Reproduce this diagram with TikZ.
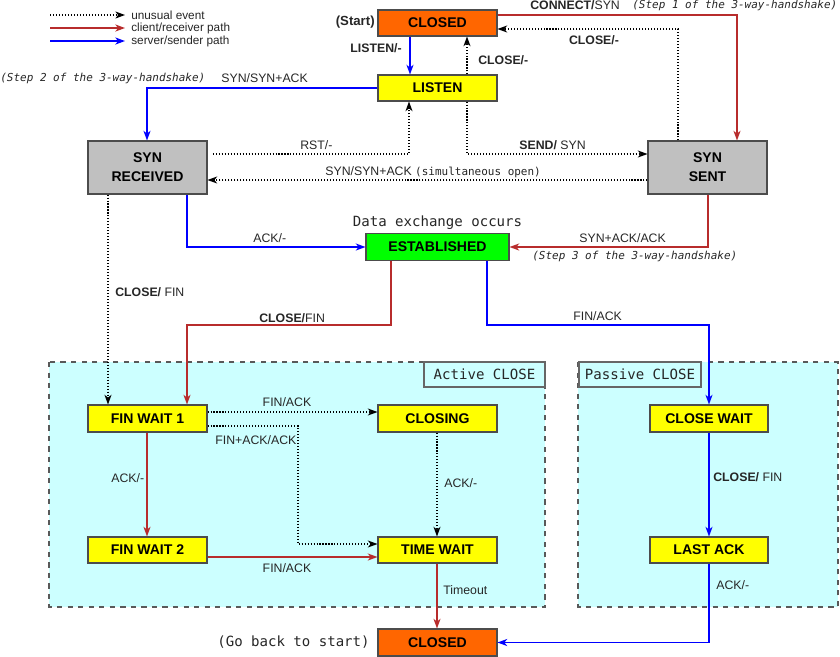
\documentclass[tikz,border=0pt]{standalone}
\usepackage{fontspec}
\setmainfont{Liberation Sans}
\setmonofont{DejaVu Sans Mono}
\usepackage{tikz}
\usetikzlibrary{positioning}
\usetikzlibrary{arrows.meta}
\definecolor{closedcol}{RGB}{255,102,0}
\definecolor{waitcol}{RGB}{255,255,0}
\definecolor{estcol}{RGB}{0,255,0}
\definecolor{syncol}{RGB}{192,192,192}
\definecolor{clustcol}{RGB}{204,255,255}
\definecolor{clientcol}{RGB}{184,44,44}
\colorlet{txtcol}{black!85}
\tikzset{>={Stealth[length=5.5pt,width=4pt,inset=1.6pt]}}
\tikzset{
  state/.style={draw=black!70, line width=0.6pt, minimum width=2.38cm,
    minimum height=0.52cm, inner sep=0pt, align=center,
    font=\fontsize{8}{10}\selectfont\bfseries},
  lbl/.style={font=\fontsize{7}{8}\selectfont, text=txtcol, inner sep=0pt},
  note/.style={font=\fontsize{6.25}{7.5}\selectfont\ttfamily\itshape, text=txtcol, inner sep=0pt},
  mono/.style={font=\fontsize{8}{9.6}\selectfont\ttfamily, text=txtcol, inner sep=0pt},
  unusual/.style={->, black, line width=0.6pt, dash pattern=on 0.6pt off 1.1pt},
  client/.style={->, clientcol, line width=0.9pt},
  server/.style={->, blue, line width=0.9pt},
}

\begin{document}
\begin{tikzpicture}[x=0.02cm, y=-0.02cm]
\useasboundingbox (0,0) rectangle (840,657);

% Close regions
\fill[clustcol] (49,362) rectangle (545,607);
\draw[black!65, dashed, line width=0.6pt] (49,362) rectangle (545,607);
\fill[clustcol] (578,362) rectangle (838,607);
\draw[black!65, dashed, line width=0.6pt] (578,362) rectangle (838,607);
\node[mono, draw=black!60, fill=clustcol, line width=0.6pt,
  minimum width=2.42cm, minimum height=0.5cm] (activeTitle) at (484.5,374.5) {Active CLOSE};
\node[mono, draw=black!60, fill=clustcol, line width=0.6pt,
  minimum width=2.44cm, minimum height=0.5cm] (passiveTitle) at (640,374.5) {Passive CLOSE};

% Legend
\coordinate (lgUnusual) at (50,15);
\coordinate (lgClient) at (50,28);
\coordinate (lgServer) at (50,41);
\node[lbl, font=\fontsize{6.7}{8}\selectfont, anchor=west, inner xsep=3.4pt] (lgUnusualTxt) at (125,15) {unusual event};
\node[lbl, font=\fontsize{6.7}{8}\selectfont, anchor=west, inner xsep=3.4pt] (lgClientTxt) at (125,28) {client/receiver path};
\node[lbl, font=\fontsize{6.7}{8}\selectfont, anchor=west, inner xsep=3.4pt] (lgServerTxt) at (125,41) {server/sender path};
\draw[unusual] (lgUnusual) -- (lgUnusualTxt.west);
\draw[client] (lgClient) -- (lgClientTxt.west);
\draw[server] (lgServer) -- (lgServerTxt.west);

% States
\node[state, fill=closedcol] (closedA) at (437.5,23) {CLOSED};
\node[state, fill=waitcol] (listen) at (437.5,88) {LISTEN};
\node[state, fill=syncol, minimum height=1.06cm] (synRcvd) at (147.5,167.5) {SYN\\[0.8pt]RECEIVED};
\node[state, fill=syncol, minimum height=1.06cm] (synSent) at (707.5,167.5) {SYN\\[0.8pt]SENT};
\node[state, fill=estcol, minimum width=2.86cm, minimum height=0.54cm] (estab) at (437.5,247) {ESTABLISHED};
\node[state, fill=waitcol, minimum height=0.54cm] (finWait1) at (147.5,418.5) {FIN WAIT 1};
\node[state, fill=waitcol, minimum height=0.54cm] (closing) at (437.5,418.5) {CLOSING};
\node[state, fill=waitcol] (finWait2) at (147.5,550) {FIN WAIT 2};
\node[state, fill=waitcol] (timeWait) at (437.5,550) {TIME WAIT};
\node[state, fill=waitcol, minimum width=2.36cm, minimum height=0.54cm] (closeWait) at (709,418.5) {CLOSE WAIT};
\node[state, fill=waitcol, minimum width=2.36cm] (lastAck) at (709,550) {LAST ACK};
\node[state, fill=closedcol, minimum height=0.54cm] (closedB) at (437.5,642.5) {CLOSED};

% Opening
\node[lbl, font=\fontsize{7.5}{9}\selectfont\bfseries, anchor=east] (startTxt) at (375,22) {(Start)};
\draw[server] (410,0 |- closedA.south) -- (410,0 |- listen.north);
\node[lbl, font=\fontsize{7}{8}\selectfont\bfseries, anchor=east] (listenTxt) at (402,48) {LISTEN/-};
\draw[unusual] (467,0 |- listen.north) -- (467,0 |- closedA.south);
\node[lbl, font=\fontsize{7}{8}\selectfont\bfseries, anchor=west] (closeListenTxt) at (478,60) {CLOSE/-};
\draw[client] (closedA.east |- 0,15) -| (737,0 |- synSent.north);
\node[lbl, anchor=west] (connectTxt) at (530,5) {{\bfseries CONNECT/}SYN};
\node[note, anchor=west] (stepOne) at (632,5) {(Step 1 of the 3-way-handshake)};
\draw[unusual] (678,0 |- synSent.north) |- (closedA.east |- 0,29);
\node[lbl, font=\fontsize{7}{8}\selectfont\bfseries] (closeSentTxt) at (594,40) {CLOSE/-};
\draw[server] (listen.west) -| (147,0 |- synRcvd.north);
\node[note, anchor=west] (stepTwo) at (0,78) {(Step 2 of the 3-way-handshake)};
\node[lbl, anchor=west] (synAckTxt) at (221,78) {SYN/SYN+ACK};
\draw[unusual, shorten <=3pt] (synRcvd.east |- 0,154) -| (409,0 |- listen.south);
\node[lbl, anchor=west] (rstTxt) at (300,145) {RST/-};
\draw[unusual] (467,0 |- listen.south) |- (synSent.west |- 0,154);
\node[lbl, anchor=west] (sendTxt) at (519,145) {{\bfseries SEND/} SYN};
\draw[unusual] (synSent.west |- 0,180) -- (synRcvd.east |- 0,180);
\node[lbl, anchor=west] (simulTxt) at (325,172) {SYN/SYN+ACK {\fontsize{6.25}{7.5}\selectfont\ttfamily(simultaneous open)}};

% Established
\node[mono, anchor=south] (dataTxt) at (437.5,230) {Data exchange occurs};
\draw[server] (187,0 |- synRcvd.south) |- (estab.west);
\node[lbl, anchor=west] (ackRcvdTxt) at (253,238) {ACK/-};
\draw[client] (708,0 |- synSent.south) |- (estab.east);
\node[lbl, anchor=west] (synAckAckTxt) at (579,238) {SYN+ACK/ACK};
\node[note, anchor=west] (stepThree) at (532,256) {(Step 3 of the 3-way-handshake)};

% Closing
\draw[unusual] (108,0 |- synRcvd.south) -- (108,0 |- finWait1.north);
\node[lbl, anchor=west] (closeRcvdTxt) at (115,292) {{\bfseries CLOSE/} FIN};
\draw[client] (391,0 |- estab.south) -- (391,325) -| (187,0 |- finWait1.north);
\node[lbl, anchor=west] (closeEstTxt) at (259,318) {{\bfseries CLOSE/}FIN};
\draw[server] (487,0 |- estab.south) -- (487,325) -| (closeWait.north);
\node[lbl, anchor=west] (finEstTxt) at (573,316) {FIN/ACK};

% Active close
\draw[unusual] (finWait1.east |- 0,412) -- (closing.west |- 0,412);
\node[lbl] (finOneTxt) at (287,402) {FIN/ACK};
\draw[unusual] (finWait1.east |- 0,426) -| (298,544) -- (timeWait.west |- 0,544);
\node[lbl, anchor=west] (finAckTxt) at (215,440) {FIN+ACK/ACK};
\draw[client] (147,0 |- finWait1.south) -- (147,0 |- finWait2.north);
\node[lbl, anchor=west] (ackOneTxt) at (111,478) {ACK/-};
\draw[unusual] (437,0 |- closing.south) -- (437,0 |- timeWait.north);
\node[lbl, anchor=west] (ackClosingTxt) at (444,483) {ACK/-};
\draw[client] (finWait2.east |- 0,557) -- (timeWait.west |- 0,557);
\node[lbl] (finTwoTxt) at (287,568) {FIN/ACK};
\draw[client] (437,0 |- timeWait.south) -- (437,0 |- closedB.north);
\node[lbl, anchor=west] (timeoutTxt) at (443,590) {Timeout};
\node[mono, anchor=east] (backTxt) at (370,642) {(Go back to start)};

% Passive close
\draw[server] (closeWait.south) -- (lastAck.north);
\node[lbl, anchor=west] (closeWaitTxt) at (713,477) {{\bfseries CLOSE/} FIN};
\draw[server] (lastAck.south) |- (closedB.east);
\node[lbl, anchor=west] (ackLastTxt) at (716,585) {ACK/-};

\end{tikzpicture}
\end{document}
